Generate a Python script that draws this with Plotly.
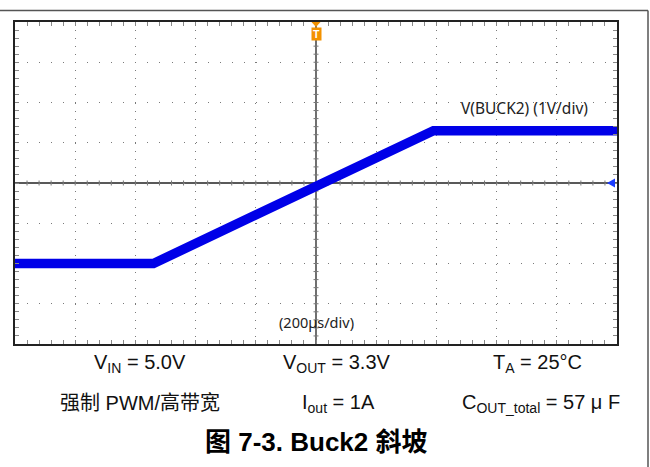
import plotly.graph_objects as go

# ---- data read from the scope capture ----
time_us = [-1000, -540, 390, 1000]          # time (µs), trigger at 0
v_buck2 = [0.0, 0.0, 3.3, 3.3]              # V(BUCK2) in volts

trace_label = "V(BUCK2) (1V/div)"
time_label = "(200µs/div)"
row1_labels = ["V<sub>IN</sub> = 5.0V", "V<sub>OUT</sub> = 3.3V", "T<sub>A</sub> = 25°C"]
row2_labels = ["强制 PWM/高带宽", "I<sub>out</sub> = 1A", "C<sub>OUT_total</sub> = 57 μ F"]
caption = "<b>图 7-3. Buck2 斜坡</b>"

# scope settings
x_div = 200.0   # µs/div
y_div = 1.0     # V/div
y_center = 2.0  # V at screen centre
x_range = [-5 * x_div, 5 * x_div]
y_range = [y_center - 4 * y_div, y_center + 4 * y_div]

W, H = 650, 467
ml, mr, mt, mb = 15, 33, 22, 123
pw, ph = W - ml - mr, H - mt - mb

def px(xp):
    return (xp - ml) / pw

def py(yp):
    return 1 - (yp - mt) / ph

fig = go.Figure()
fig.add_trace(go.Scatter(
    x=time_us, y=v_buck2, mode="lines",
    line=dict(color="#0000e8", width=9.5),
    hoverinfo="skip", showlegend=False,
))

grid_col = "#7a7a7a"
fig.update_xaxes(
    range=x_range, dtick=x_div, showgrid=True, gridcolor=grid_col, gridwidth=1,
    griddash="1px,%.3fpx" % (ph / 40 - 1),
    zeroline=False, showticklabels=False,
    showline=True, linecolor="#222", linewidth=1.5, mirror="allticks",
    ticks="inside", ticklen=4, tickcolor="#888",
    minor=dict(dtick=x_div / 5, ticks="inside", ticklen=4, tickcolor="#888", showgrid=False),
)
fig.update_yaxes(
    range=y_range, dtick=y_div, tick0=y_center, showgrid=True, gridcolor=grid_col, gridwidth=1,
    griddash="1px,%.3fpx" % (pw / 50 - 1),
    zeroline=False, showticklabels=False,
    showline=True, linecolor="#222", linewidth=1.5, mirror="allticks",
    ticks="inside", ticklen=4, tickcolor="#888",
    minor=dict(dtick=y_div / 5, tick0=y_center, ticks="inside", ticklen=4, tickcolor="#888", showgrid=False),
)

shapes = []
# centre cross lines
shapes.append(dict(type="line", xref="paper", yref="y", x0=0, x1=1, y0=y_center, y1=y_center,
                   line=dict(color="#222", width=1.3), layer="below"))
shapes.append(dict(type="line", xref="x", yref="paper", x0=0, x1=0, y0=0, y1=1,
                   line=dict(color="#222", width=1.3), layer="below"))
# centre-line minor ticks
tick_half_y = 2.5 / ph * (y_range[1] - y_range[0])
for i in range(1, 50):
    t = x_range[0] + i * x_div / 5
    shapes.append(dict(type="line", xref="x", yref="y", x0=t, x1=t,
                       y0=y_center - tick_half_y, y1=y_center + tick_half_y,
                       line=dict(color="#777", width=1), layer="below"))
tick_half_x = 2.5 / pw * (x_range[1] - x_range[0])
for i in range(1, 40):
    v = y_range[0] + i * y_div / 5
    shapes.append(dict(type="line", xref="x", yref="y", x0=-tick_half_x, x1=tick_half_x,
                       y0=v, y1=v, line=dict(color="#777", width=1), layer="below"))
# outer frame
shapes.append(dict(type="line", xref="paper", yref="paper",
                   x0=px(-2), x1=px(648), y0=py(10.5), y1=py(10.5),
                   line=dict(color="#555", width=1.5)))
shapes.append(dict(type="line", xref="paper", yref="paper",
                   x0=px(648), x1=px(648), y0=py(10.5), y1=py(470),
                   line=dict(color="#555", width=1.5)))
# trigger triangle
shapes.append(dict(type="path", xref="paper", yref="paper",
                   path="M %f %f L %f %f L %f %f Z" % (px(311.5), py(22), px(320.5), py(22), px(316), py(27)),
                   fillcolor="#f39200", line=dict(color="#f39200", width=0)))
# channel marker (left-pointing arrow on the right edge)
shapes.append(dict(type="path", xref="paper", yref="paper",
                   path="M %f %f L %f %f L %f %f Z" % (px(607), py(183), px(615), py(178.5), px(615), py(187.5)),
                   fillcolor="#1a3cff", line=dict(color="#1a3cff", width=0)))

ann = []
def add_text(text, x, y, size, family="Noto Sans", color="#333", xref="paper", yref="paper", **kw):
    d = dict(text=text, x=x, y=y, xref=xref, yref=yref, showarrow=False,
             xanchor="center", yanchor="middle",
             font=dict(family=family, size=size, color=color))
    d.update(kw)
    ann.append(d)

add_text(trace_label, px(524), py(108), 15.5, color="#222")
add_text(time_label, 0.5, py(322), 14.5, color="#222")
# trigger badge
add_text("<b>T</b>", 0, py(34), 10.5, family="Liberation Sans", color="white", xref="x",
         bgcolor="#f39200", borderpad=0, width=9, height=12)

xs = [px(140), px(337), px(537)]
xs2 = [px(140), px(338), px(541)]
fam = "Liberation Sans, Noto Sans CJK SC"
for t, x in zip(row1_labels, xs):
    add_text(t, x, py(363), 20, family=fam, color="#111")
for t, x in zip(row2_labels, xs2):
    add_text(t, x, py(403), 20, family=fam, color="#111")
add_text(caption, 0.5, py(442), 26, family=fam, color="#000")

fig.update_layout(
    width=W, height=H,
    margin=dict(l=ml, r=mr, t=mt, b=mb),
    paper_bgcolor="white", plot_bgcolor="white",
    shapes=shapes, annotations=ann, showlegend=False,
)

fig.write_html("out.html", config={"displayModeBar": False},
               post_script="document.body.style.margin='0';document.body.style.padding='0';")
